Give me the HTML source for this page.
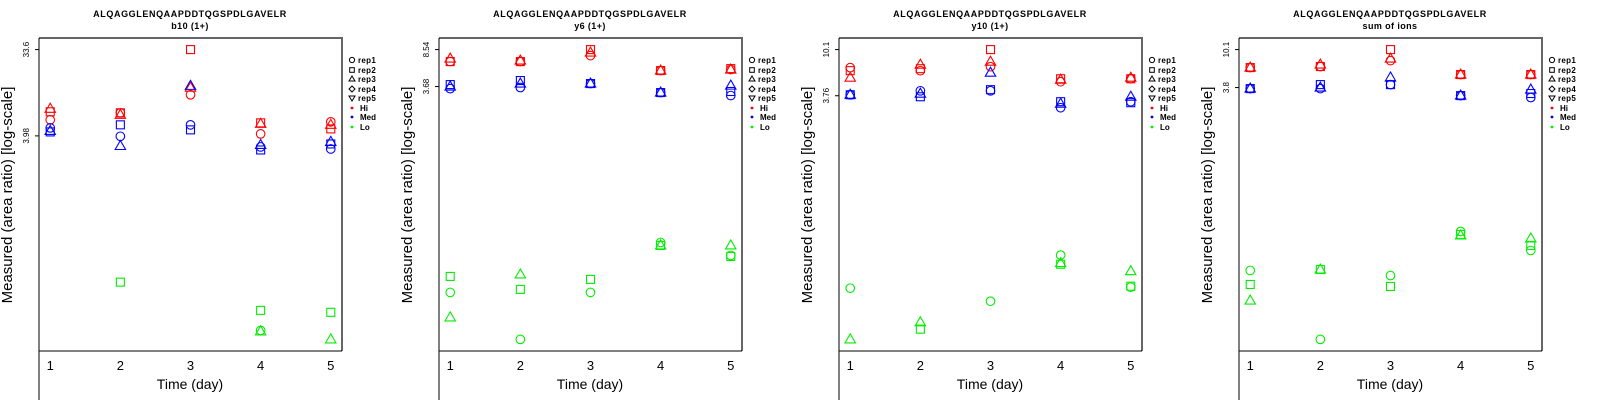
<!DOCTYPE html>
<html><head><meta charset="utf-8">
<style>
html,body{margin:0;padding:0;background:#fff;}
svg{display:block;font-family:"Liberation Sans",sans-serif;}
</style></head>
<body>
<svg id="chart" width="1600" height="400" viewBox="0 0 1600 400" xmlns="http://www.w3.org/2000/svg"></svg>
<script>
const days = [1,2,3,4,5];
const panelTitles = ["b10 (1+)","y6 (1+)","y10 (1+)","sum of ions"];
const tickValues = [[33.6,3.98],[8.54,3.68],[10.1,3.76],[10.1,3.8]];
const tickLabels = [["33.6","3.98"],["8.54","3.68"],["10.1","3.76"],["10.1","3.8"]];
const groupNames = ["Hi","Med","Lo"];
const repNames = ["rep1","rep2","rep3","rep4","rep5"];

// panel 1: b10 (1+)   arrays: [rep1, rep2, rep3]
const p1Hi  = [[5.91,7.04,11.0,4.18,5.63],[7.22,7.04,33.6,5.49,4.73],[7.78,6.70,13.1,5.36,5.23]];
const p1Med = [[4.85,3.94,5.23,3.03,2.88],[4.39,5.23,4.62,2.81,3.26],[4.50,3.10,13.7,3.18,3.43]];
const p1Lo  = [[null,null,null,0.0325,null],[null,0.107,null,0.0533,0.0508],[null,null,null,0.0317,0.0260]];
// panel 2: y6 (1+)
const p2Hi  = [[6.50,6.50,7.45,5.30,5.42],[6.50,6.50,8.54,5.30,5.54],[6.96,6.65,7.98,5.30,5.42]];
const p2Med = [[3.51,3.60,3.94,3.21,3.00],[3.85,4.22,3.94,3.21,3.29],[3.68,3.94,3.94,3.21,3.76]];
const p2Lo  = [[0.0339,0.01163,0.0339,0.1058,0.0787],[0.0488,0.0363,0.0456,0.0988,0.0769],[0.0192,0.0510,null,0.0988,0.0988]];
// panel 3: y10 (1+)
const p3Hi  = [[6.86,6.43,7.00,5.08,5.41],[6.43,6.71,10.1,5.41,5.41],[5.53,7.31,7.80,5.30,5.53]];
const p3Med = [[3.84,4.18,4.18,2.91,3.31],[3.84,3.68,4.28,3.31,3.24],[3.84,3.93,6.16,3.17,3.68]];
const p3Lo  = [[0.0611,null,0.0462,0.124,0.0624],[null,0.0254,null,0.102,0.0637],[0.0204,0.0294,null,0.1045,0.0879]];
// panel 4: sum of ions
const p4Hi  = [[6.36,6.53,7.61,5.31,5.31],[6.36,6.53,10.1,5.31,5.31],[6.36,6.87,8.01,5.31,5.31]];
const p4Med = [[3.70,3.70,4.10,3.09,2.94],[3.70,4.10,4.10,3.09,3.26],[3.70,3.80,4.92,3.09,3.61]];
const p4Lo  = [[0.0343,0.00581,0.0301,0.0935,0.0574],[0.0239,0.0351,0.0227,0.0867,0.0653],[0.0158,0.0351,null,0.0843,0.0781]];

const panelData = [[p1Hi,p1Med,p1Lo],[p2Hi,p2Med,p2Lo],[p3Hi,p3Med,p3Lo],[p4Hi,p4Med,p4Lo]];
const groupColors = ["#ff0000","#0000ff","#00ee00"];

const NS = "http://www.w3.org/2000/svg";
const svg = document.getElementById("chart");
function mk(tag, attrs, parent){
  const e = document.createElementNS(NS, tag);
  for (const k in attrs) e.setAttribute(k, attrs[k]);
  parent.appendChild(e);
  return e;
}
const L=39, R=342, T=38, B=351;

function drawMarker(g, shape, x, y, color){
  let e;
  if (shape===0){ e = mk("circle",{cx:x,cy:y,r:4.3,fill:"none",stroke:color,"stroke-width":1.1},g); }
  else if (shape===1){ e = mk("rect",{x:x-4,y:y-4,width:8,height:8,fill:"none",stroke:color,"stroke-width":1.1},g); }
  else { e = mk("polygon",{points:`${x},${y-5.5} ${x-5.2},${y+3.5} ${x+5.2},${y+3.5}`,fill:"none",stroke:color,"stroke-width":1.1},g); }
  return e;
}

for (let p=0;p<4;p++){
  const ox = p*400;
  const g = mk("g",{transform:`translate(${ox},0)`},svg);
  
  

  // scales
  const xmin=Math.min(...days), xmax=Math.max(...days);
  const xpad=(xmax-xmin)*0.04;
  const xScale = v => L + (v-(xmin-xpad))/((xmax+xpad)-(xmin-xpad))*(R-L);
  const all=[];
  panelData[p].forEach(gr=>gr.forEach(rep=>rep.forEach(v=>{ if(v!=null) all.push(Math.log10(v)); })));
  const lmin=Math.min(...all), lmax=Math.max(...all);
  const lpad=(lmax-lmin)*0.04;
  const yScale = v => B - (Math.log10(v)-(lmin-lpad))/((lmax+lpad)-(lmin-lpad))*(B-T);

  // titles
  const t1 = mk("text",{x:190,y:17,"text-anchor":"middle","font-size":"9","font-weight":"bold","letter-spacing":"0.6"},g);
  t1.textContent = "ALQAGGLENQAAPDDTQGSPDLGAVELR";
  
  
  const t2 = mk("text",{x:190,y:29,"text-anchor":"middle","font-size":"9","font-weight":"bold","letter-spacing":"0.4"},g);
  t2.textContent = panelTitles[p];
  
  

  // box
  const topR = mk("polyline",{points:`${L},${T} ${R},${T} ${R},${B}`,fill:"none",stroke:"#666",'stroke-width':2},g);
  
  
  const yAxis = mk("line",{x1:L,y1:T,x2:L,y2:400,stroke:"#000","stroke-width":1},g);
  
  
  const xAxis = mk("line",{x1:L,y1:B,x2:R,y2:B,stroke:"#000","stroke-width":1},g);
  
  

  // x tick labels
  days.forEach(d=>{
    const t = mk("text",{x:xScale(d),y:370,"text-anchor":"middle","font-size":"13"},g);
    t.textContent = String(d);
    
    
  });
  const xt = mk("text",{x:190,y:389,"text-anchor":"middle","font-size":"14"},g);
  xt.textContent = "Time (day)";
  
  

  // y ticks
  tickValues[p].forEach((v,i)=>{
    const y = yScale(v);
    const tk = mk("line",{x1:L-4,y1:y,x2:L,y2:y,stroke:"#000","stroke-width":1},g);
    
    
    const t = mk("text",{x:0,y:0,"text-anchor":"middle","font-size":"8",transform:`translate(29,${y}) rotate(-90)`},g);
    t.textContent = tickLabels[p][i];
    
    
  });
  const yt = mk("text",{x:0,y:0,"text-anchor":"middle","font-size":"15",transform:"translate(12,195) rotate(-90)"},g);
  yt.textContent = "Measured (area ratio) [log-scale]";
  
  

  // points
  panelData[p].forEach((gr,gi)=>{
    gr.forEach((rep,ri)=>{
      rep.forEach((v,di)=>{
        if (v==null) return;
        const m = drawMarker(g, ri, xScale(days[di]), yScale(v), groupColors[gi]);
        
        
      });
    });
  });

  // legend
  const lg = mk("g",{},g);
  
  
  const ly = [60,70,79,89,98,108,117,127];
  const lx = 352;
  repNames.forEach((r,i)=>{
    const y = ly[i];
    let s;
    if (i===0) s = mk("circle",{cx:lx,cy:y,r:2.6,fill:"none",stroke:"#000","stroke-width":1},lg);
    else if (i===1) s = mk("rect",{x:lx-2.3,y:y-2.3,width:4.6,height:4.6,fill:"none",stroke:"#000","stroke-width":1},lg);
    else if (i===2) s = mk("polygon",{points:`${lx},${y-3} ${lx-3},${y+2} ${lx+3},${y+2}`,fill:"none",stroke:"#000","stroke-width":1},lg);
    else if (i===3) s = mk("polygon",{points:`${lx},${y-3} ${lx-3},${y} ${lx},${y+3} ${lx+3},${y}`,fill:"none",stroke:"#000","stroke-width":1},lg);
    else s = mk("polygon",{points:`${lx},${y+3} ${lx-3},${y-2} ${lx+3},${y-2}`,fill:"none",stroke:"#000","stroke-width":1},lg);
    
    
    const t = mk("text",{x:358,y:y+3,"font-size":"8","font-weight":"bold","letter-spacing":"0.3"},lg);
    t.textContent = r;
    
    
  });
  groupNames.forEach((n,i)=>{
    const y = ly[5+i];
    const s = mk("circle",{cx:lx,cy:y,r:1.4,fill:groupColors[i]},lg);
    
    
    const t = mk("text",{x:360,y:y+3,"font-size":"8","font-weight":"bold"},lg);
    t.textContent = n;
    
    
  });
}
</script>
</body></html>
